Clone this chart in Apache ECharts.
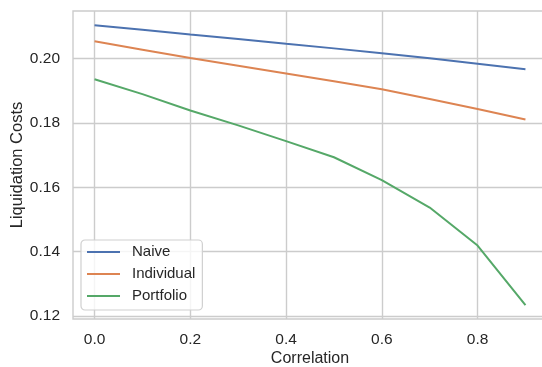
<!DOCTYPE html>
<html>
<head>
<meta charset="utf-8">
<script src="https://cdn.jsdelivr.net/npm/echarts@6/dist/echarts.min.js"></script>
<style>
html,body{margin:0;padding:0;background:#fff;}
#chart{width:542px;height:367px;}
</style>
</head>
<body>
<div id="chart"></div>
<script>
const correlation = [0.0, 0.1, 0.2, 0.3, 0.4, 0.5, 0.6, 0.7, 0.8, 0.9];
const naive = [0.2103, 0.2089, 0.2074, 0.2060, 0.2045, 0.2031, 0.2016, 0.2000, 0.1983, 0.1966];
const individual = [0.2053, 0.2027, 0.2001, 0.1977, 0.1953, 0.1929, 0.1904, 0.1874, 0.1843, 0.1810];
const portfolio = [0.1935, 0.1889, 0.1838, 0.1792, 0.1743, 0.1693, 0.1622, 0.1537, 0.1419, 0.1234];
const xTicks = [0.0, 0.2, 0.4, 0.6, 0.8];
const yTicks = [0.12, 0.14, 0.16, 0.18, 0.20];
const seriesNames = ['Naive', 'Individual', 'Portfolio'];
const colors = ['#4c72b0', '#dd8452', '#55a868'];

const FONT = '"Liberation Sans", Arial, sans-serif';
const TXT = '#262626';
const GRID = '#cccccc';

function pairs(ys) { return correlation.map((x, i) => [x, ys[i]]); }

const chart = echarts.init(document.getElementById('chart'), null, {renderer: 'canvas'});
chart.setOption({
  animation: false,
  backgroundColor: '#ffffff',
  grid: {left: 73, right: -5, top: 11, bottom: 48, outerBoundsMode: 'none', containLabel: false,
         show: true, borderColor: GRID, borderWidth: 1.4, backgroundColor: 'transparent'},
  xAxis: {
    type: 'value', min: -0.045, max: 0.945,
    name: 'Correlation', nameLocation: 'middle', nameGap: 32, nameMoveOverlap: false,
    nameTextStyle: {fontFamily: FONT, fontSize: 16, color: TXT},
    axisLine: {show: false},
    axisTick: {show: false, customValues: xTicks},
    axisLabel: {customValues: xTicks, margin: 13, fontFamily: FONT, fontSize: 15.5, color: TXT, formatter: v => v.toFixed(1)},
    splitLine: {show: true, lineStyle: {color: GRID, width: 1.4}}
  },
  yAxis: {
    type: 'value', min: 0.1191, max: 0.2147,
    name: 'Liquidation Costs', nameLocation: 'middle', nameGap: 47, nameMoveOverlap: false,
    nameTextStyle: {fontFamily: FONT, fontSize: 16.5, color: TXT},
    axisLine: {show: false},
    axisTick: {show: false, customValues: yTicks},
    axisLabel: {customValues: yTicks, margin: 13, fontFamily: FONT, fontSize: 15.5, color: TXT, formatter: v => v.toFixed(2)},
    splitLine: {show: true, lineStyle: {color: GRID, width: 1.4}}
  },
  legend: {
    orient: 'vertical', left: 81, top: 240,
    data: seriesNames,
    icon: 'rect', itemWidth: 33, itemHeight: 2, itemGap: 6,
    padding: [4, 7, 6, 6],
    borderColor: '#d0d0d0', borderWidth: 1.2, borderRadius: 4,
    backgroundColor: 'rgba(255,255,255,0.8)',
    textStyle: {fontFamily: FONT, fontSize: 15, color: TXT, lineHeight: 16, padding: [0, 0, 0, 7]}
  },
  series: seriesNames.map((n, i) => ({
    name: n, type: 'line',
    data: pairs([naive, individual, portfolio][i]),
    symbol: 'none', color: colors[i],
    lineStyle: {width: 2, color: colors[i]}
  }))
});
</script>
</body>
</html>
